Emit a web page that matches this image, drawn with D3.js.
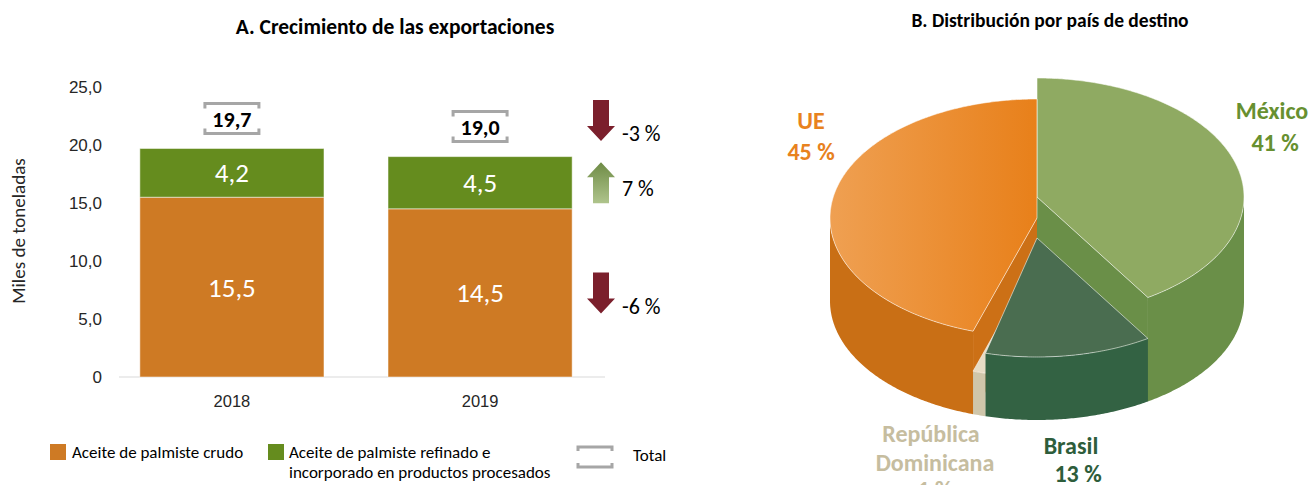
<!DOCTYPE html>
<html><head><meta charset="utf-8">
<script src="https://cdn.jsdelivr.net/npm/d3@7"></script>
<style>
body{margin:0;background:#fff}
svg{display:block;font-family:Calibri,Carlito,Lato,"Open Sans",sans-serif}
</style>
</head><body>
<svg id="c" width="1312" height="485"></svg>
<script>
// ---------------- DATA ----------------
const years = ["2018", "2019"];
const crudo = [15.5, 14.5];
const refinado = [4.2, 4.5];
const totals = [19.7, 19.0];
const yTicks = [0, 5, 10, 15, 20, 25];
const changeValues = [-3, 7, -6];
const changeLabels = ["-3 %", "7 %", "-6 %"];
const legendNames = ["Aceite de palmiste crudo", "Aceite de palmiste refinado e", "incorporado en productos procesados", "Total"];
const countries = ["México", "Brasil", "República Dominicana", "UE"];
const shares = [41, 13, 1, 45];
const shareLabels = ["41 %", "13 %", "1 %", "45 %"];

// ---------------- STYLE ----------------
const svg = d3.select("#c");
const defs = svg.append("defs");
const cOrange = "#CE7A24", cGreen = "#658C1E";
const fmt = d => d === 0 ? "0" : d.toFixed(1).replace(".", ",");

// Titles
svg.append("text").attr("x", 395).attr("y", 34).attr("text-anchor", "middle")
  .attr("font-size", 21.5).attr("font-weight", "bold").attr("fill", "#000")
  .text("A. Crecimiento de las exportaciones");
svg.append("text").attr("x", 1050).attr("y", 27).attr("text-anchor", "middle")
  .attr("font-size", 19.5).attr("font-weight", "bold").attr("fill", "#000")
  .text("B. Distribución por país de destino");

// ---------------- BAR CHART ----------------
const y = d3.scaleLinear().domain([0, 25]).range([377, 87]);
const x = d3.scaleBand().domain(years).range([120, 592]).paddingInner(0.258).paddingOuter(0.08);

svg.append("line").attr("x1", 119).attr("x2", 605).attr("y1", y(0)).attr("y2", y(0))
  .attr("stroke", "#D9D9D9").attr("stroke-width", 1.2);

const gy = svg.append("g").attr("transform", `translate(120,0)`)
  .call(d3.axisLeft(y).tickValues(yTicks).tickSize(0).tickPadding(18).tickFormat(fmt));
gy.select(".domain").remove();
gy.selectAll("text").attr("font-size", 17).attr("fill", "#262626").attr("font-family", null);

svg.append("text").attr("transform", "translate(25,231) rotate(-90)")
  .attr("text-anchor", "middle").attr("font-size", 19).attr("fill", "#262626")
  .text("Miles de toneladas");

const gx = svg.append("g").attr("transform", `translate(0,${y(0)})`)
  .call(d3.axisBottom(x).tickSize(0).tickPadding(18));
gx.select(".domain").remove();
gx.selectAll("text").attr("font-size", 16.5).attr("fill", "#262626").attr("font-family", null);

const bars = svg.append("g");
years.forEach((yr, i) => {
  const x0 = x(yr), bw = x.bandwidth();
  bars.append("rect").attr("x", x0).attr("width", bw)
    .attr("y", y(crudo[i])).attr("height", y(0) - y(crudo[i]))
    .attr("fill", cOrange).attr("stroke", "#fff").attr("stroke-opacity", 0.5).attr("stroke-width", 1);
  bars.append("rect").attr("x", x0).attr("width", bw)
    .attr("y", y(crudo[i] + refinado[i])).attr("height", y(crudo[i]) - y(crudo[i] + refinado[i]))
    .attr("fill", cGreen).attr("stroke", "#fff").attr("stroke-opacity", 0.5).attr("stroke-width", 1);
  const cx = x0 + bw / 2;
  bars.append("text").attr("x", cx).attr("y", y(crudo[i] / 2)).attr("dy", "0.35em")
    .attr("text-anchor", "middle").attr("font-size", 27).attr("fill", "#fff").text(fmt(crudo[i]));
  bars.append("text").attr("x", cx).attr("y", y(crudo[i] + refinado[i] / 2)).attr("dy", "0.35em")
    .attr("text-anchor", "middle").attr("font-size", 27).attr("fill", "#fff").text(fmt(refinado[i]));
  const by = y(totals[i]) - 30, w = 54, h = 30, l = cx - w / 2, r = cx + w / 2, t = by - h / 2, b = by + h / 2;
  bars.append("path")
    .attr("d", `M${l},${t + 5}V${t}H${r}V${t + 5}M${l},${b - 5}V${b}H${r}V${b - 5}`)
    .attr("fill", "none").attr("stroke", "#A6A6A6").attr("stroke-width", 3);
  bars.append("text").attr("x", cx).attr("y", by + 1).attr("dy", "0.35em").attr("text-anchor", "middle")
    .attr("font-size", 22).attr("font-weight", "bold").attr("fill", "#000").text(fmt(totals[i]));
});

const upGrad = defs.append("linearGradient").attr("id", "upg").attr("x1", 0).attr("x2", 0).attr("y1", 0).attr("y2", 1);
upGrad.append("stop").attr("offset", "0%").attr("stop-color", "#6E8B45");
upGrad.append("stop").attr("offset", "100%").attr("stop-color", "#AFC48C");
const arrowCenters = [y(totals[1]) - 36, y(crudo[1] + refinado[1] / 2), y(crudo[1] / 2)];
const ax = 601;
changeValues.forEach((v, i) => {
  const cy = arrowCenters[i], H = 41, hh = 15, sw = 8, hw = 14;
  const t = cy - H / 2, b = cy + H / 2;
  let d;
  if (v < 0) {
    d = `M${ax - sw},${t}H${ax + sw}V${b - hh}H${ax + hw}L${ax},${b}L${ax - hw},${b - hh}H${ax - sw}Z`;
  } else {
    d = `M${ax - sw},${b}H${ax + sw}V${t + hh}H${ax + hw}L${ax},${t}L${ax - hw},${t + hh}H${ax - sw}Z`;
  }
  svg.append("path").attr("d", d).attr("fill", v < 0 ? "#7B1F2C" : "url(#upg)");
  svg.append("text").attr("x", 622).attr("y", cy + (v < 0 ? 13 : 6)).attr("dy", "0.35em")
    .attr("font-size", 22).attr("fill", "#000").text(changeLabels[i]);
});

const lg = svg.append("g").attr("font-size", 17).attr("fill", "#000");
lg.append("rect").attr("x", 50).attr("y", 444).attr("width", 16).attr("height", 16).attr("fill", cOrange);
lg.append("text").attr("x", 72).attr("y", 458).text(legendNames[0]);
lg.append("rect").attr("x", 268).attr("y", 444).attr("width", 16).attr("height", 16).attr("fill", cGreen);
lg.append("text").attr("x", 289).attr("y", 458).text(legendNames[1]);
lg.append("text").attr("x", 289).attr("y", 478).text(legendNames[2]);
lg.append("path").attr("d", "M578,451V447H612V451M578,463V467H612V463")
  .attr("fill", "none").attr("stroke", "#A6A6A6").attr("stroke-width", 3);
lg.append("text").attr("x", 633).attr("y", 461).text(legendNames[3]);

// ---------------- 3D PIE ----------------
const P = { cx: 1037, by: 301, rx: 207, ry: 119 };
const sliceStyle = {
  "México": { h: 104, top: "#8FAA62", wall: "#6A8F48", inner: "#6A8F48", label: "#679030" },
  "Brasil": { h: 63, top: "#4A6D50", wall: "#336243", inner: "#3E6647", label: "#2E5D3B" },
  "República Dominicana": { h: 43, top: "#E7DCC5", wall: "#CFC6AA", inner: "#DBD0B6", label: "#C6BD9F" },
  "UE": { h: 83, top: "url(#ueg)", wall: "#C96F15", inner: "#CC7016", label: "#E8821E" }
};
const ueGrad = defs.append("linearGradient").attr("id", "ueg").attr("x1", 0).attr("x2", 1).attr("y1", 0).attr("y2", 0);
ueGrad.append("stop").attr("offset", "0%").attr("stop-color", "#EFA052");
ueGrad.append("stop").attr("offset", "100%").attr("stop-color", "#E8801A");

const arcs = d3.pie().sort(null).value(d => d).startAngle(0).endAngle(2 * Math.PI)(shares);
const pt = (a, r, h) => [P.cx + r * P.rx * Math.sin(a), P.by - h - r * P.ry * Math.cos(a)];
const arcPts = (a0, a1, h) => {
  const n = Math.max(2, Math.ceil((a1 - a0) / 0.01));
  return d3.range(n + 1).map(i => pt(a0 + (a1 - a0) * i / n, 1, h));
};
const poly = pts => "M" + pts.map(p => p.join(",")).join("L") + "Z";
const drawOrder = ["México", "UE", "República Dominicana", "Brasil"];
const pg = svg.append("g");
drawOrder.forEach(name => {
  const i = countries.indexOf(name);
  const a0 = arcs[i].startAngle, a1 = arcs[i].endAngle, st = sliceStyle[name], h = st.h;
  if (Math.sin(a0) < -1e-6)
    pg.append("path").attr("d", poly([pt(a0, 0, h), pt(a0, 1, h), pt(a0, 1, 0), pt(a0, 0, 0)])).attr("fill", st.inner);
  if (Math.sin(a1) > 1e-6)
    pg.append("path").attr("d", poly([pt(a1, 0, h), pt(a1, 1, h), pt(a1, 1, 0), pt(a1, 0, 0)])).attr("fill", st.inner);
  const w0 = Math.max(a0, Math.PI / 2), w1 = Math.min(a1, 3 * Math.PI / 2);
  if (w1 > w0)
    pg.append("path").attr("d", poly(arcPts(w0, w1, h).concat(arcPts(w0, w1, 0).reverse()))).attr("fill", st.wall);
  pg.append("path").attr("d", poly([pt(0, 0, h)].concat(arcPts(a0, a1, h))))
    .attr("fill", st.top).attr("stroke", "rgba(255,255,255,0.55)").attr("stroke-width", 1).attr("stroke-linejoin", "round");
});

const labelPos = {
  "México": [[1272, 111], [1275, 143]],
  "Brasil": [[1071, 446], [1078, 474]],
  "República Dominicana": [[931, 434], [935, 463], [935, 490]],
  "UE": [[811, 121], [811, 152]]
};
const labelLines = {
  "México": ["México"],
  "Brasil": ["Brasil"],
  "República Dominicana": ["República", "Dominicana"],
  "UE": ["UE"]
};
countries.forEach((name, i) => {
  const lines = labelLines[name].concat([shareLabels[i]]);
  lines.forEach((t, k) => {
    const p = labelPos[name][k];
    svg.append("text").attr("x", p[0]).attr("y", p[1]).attr("dy", "0.35em").attr("text-anchor", "middle")
      .attr("font-size", 24).attr("font-weight", "bold").attr("fill", sliceStyle[name].label).text(t);
  });
});
</script>
</body></html>
